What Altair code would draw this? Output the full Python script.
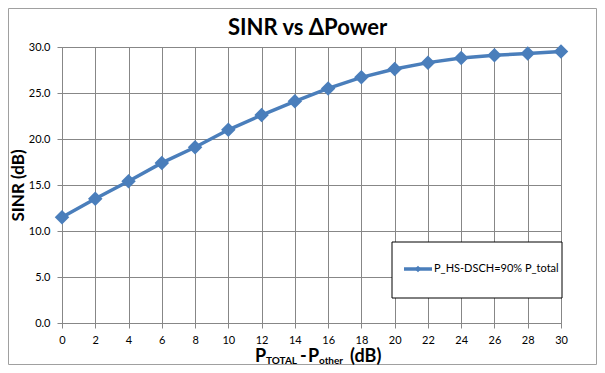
import altair as alt
import pandas as pd

x_vals = [0, 2, 4, 6, 8, 10, 12, 14, 16, 18, 20, 22, 24, 26, 28, 30]
sinr_vals = [11.5, 13.5, 15.4, 17.4, 19.1, 21.0, 22.6, 24.1, 25.5, 26.7, 27.6, 28.3, 28.8, 29.1, 29.3, 29.5]
series_name = "P_HS-DSCH=90% P_total"
chart_title = "SINR vs ΔPower"
x_ticks = list(range(0, 31, 2))
y_ticks = [0, 5, 10, 15, 20, 25, 30]

df = pd.DataFrame({"x": x_vals, "y": sinr_vals, "series": series_name})

FONT = "Lato"
BLUE = "#4A7EBB"
GRID = "#878787"
W, H = 499, 276
PL, PT, PR, PB = 54, 39, 36, 42

xenc = alt.X("x:Q", scale=alt.Scale(domain=[0, 30], nice=False),
             axis=alt.Axis(values=x_ticks, title=None, labelFont=FONT, labelFontSize=11,
                           labelColor="#000000", gridColor=GRID, domainColor=GRID,
                           tickColor=GRID, tickSize=5, labelPadding=6, labelFlush=False,
                           labelOverlap=False))
yenc = alt.Y("y:Q", scale=alt.Scale(domain=[0, 30], nice=False),
             axis=alt.Axis(values=y_ticks, format=".1f", title="SINR (dB)",
                           titleFont=FONT, titleFontSize=17, titleFontWeight="bold",
                           titleColor="#000000", titlePadding=1,
                           labelFont=FONT, labelFontSize=11, labelColor="#000000",
                           gridColor=GRID, domainColor=GRID, tickColor=GRID, tickSize=5,
                           labelPadding=7, labelOverlap=False))

base = alt.Chart(df)
line = base.mark_line(color=BLUE, strokeWidth=3.5).encode(x=xenc, y=yenc)
pts = base.mark_point(shape="diamond", filled=True, size=210, color=BLUE, opacity=1).encode(x=xenc, y=yenc)

one = pd.DataFrame({"a": [0]})

# outer frame
frame = alt.Chart(one).mark_rect(fill=None, stroke="#A0A0A0", strokeWidth=1).encode(
    x=alt.value(-PL + 0.5), x2=alt.value(W + PR - 0.5), y=alt.value(-PT + 0.5), y2=alt.value(H + PB - 0.5))

# chart title
title_txt = alt.Chart(pd.DataFrame({"t": [chart_title]})).mark_text(
    align="center", baseline="alphabetic", font=FONT, fontSize=22, fontWeight="bold", color="#000000"
).encode(x=alt.value(W / 2 - 4), y=alt.value(-12), text="t:N")

# legend box
leg_box = alt.Chart(one).mark_rect(fill="white", stroke="black", strokeWidth=1).encode(
    x=alt.value(330), x2=alt.value(500), y=alt.value(195), y2=alt.value(251))
leg_line = alt.Chart(one).mark_rule(color=BLUE, strokeWidth=3.5).encode(
    x=alt.value(342), x2=alt.value(370), y=alt.value(222))
leg_pt = alt.Chart(one).mark_point(shape="diamond", filled=True, size=40, color=BLUE, opacity=1).encode(
    x=alt.value(356), y=alt.value(222))
leg_txt = alt.Chart(df.head(1)).mark_text(align="left", baseline="middle", font=FONT, fontSize=11, color="#000000").encode(
    x=alt.value(372), y=alt.value(222), text="series:N")

# x-axis title with subscripts
parts = [
    ("P", 193, 315, 18),
    ("TOTAL", 204, 317, 10),
    ("-", 238, 315, 18),
    ("P", 246, 315, 18),
    ("other", 257, 317, 10),
    ("(dB)", 288, 315, 18),
]
xt_layers = []
for t, px, py, fs in parts:
    xt_layers.append(
        alt.Chart(pd.DataFrame({"t": [t]})).mark_text(
            align="left", baseline="alphabetic", font=FONT, fontSize=fs, fontWeight="bold", color="#000000"
        ).encode(x=alt.value(px), y=alt.value(py), text="t:N")
    )

chart = alt.layer(frame, line, pts, title_txt, leg_box, leg_line, leg_pt, leg_txt, *xt_layers).properties(
    width=W, height=H,
    autosize=alt.AutoSizeParams(type="none"),
    padding={"left": PL, "top": PT, "right": PR, "bottom": PB},
).configure_view(stroke=None).configure_axis(labelOverlap=False).configure(background="white")

chart.save("out.html", embed_options={"renderer": "svg", "actions": False})
